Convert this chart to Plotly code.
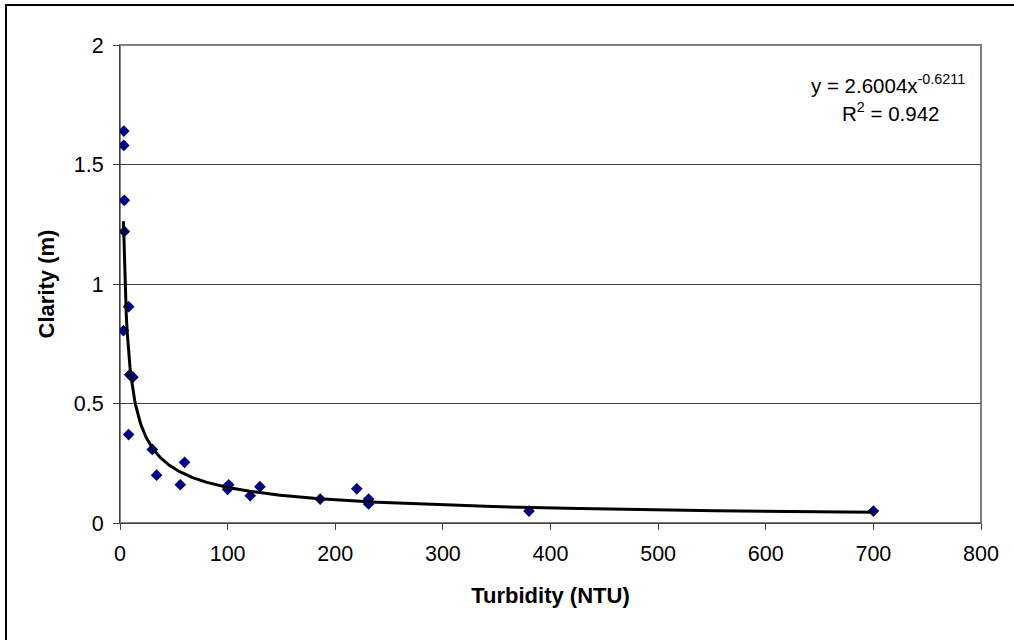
import numpy as np
import plotly.graph_objects as go

# Data
turbidity = [3.5, 3.5, 4, 4, 8, 3.2, 9, 12, 8, 30, 34, 56, 60, 101, 100, 121, 130, 186, 220, 231, 231, 380, 700]
clarity = [1.64, 1.58, 1.35, 1.22, 0.905, 0.805, 0.62, 0.61, 0.37, 0.308, 0.20, 0.16, 0.254, 0.16, 0.141, 0.114, 0.152, 0.10, 0.143, 0.10, 0.08, 0.05, 0.05]

# Power trendline coefficients (as displayed on the chart)
coef_a = 2.6004
coef_b = -0.6211
r_squared = 0.942

x_ticks = [0, 100, 200, 300, 400, 500, 600, 700, 800]
y_ticks = [0, 0.5, 1, 1.5, 2]

trend_x = np.linspace(min(turbidity), max(turbidity), 800)
trend_y = coef_a * trend_x ** coef_b

FONT = "Liberation Sans, Arial, sans-serif"

fig = go.Figure()
fig.add_trace(go.Scatter(
    x=turbidity, y=clarity, mode="markers",
    marker=dict(symbol="diamond", size=9, color="#000080", line=dict(width=0)),
    showlegend=False,
))
fig.add_trace(go.Scatter(
    x=trend_x, y=trend_y, mode="lines",
    line=dict(color="#000000", width=3),
    showlegend=False,
))

fig.update_layout(
    width=1014, height=640,
    margin=dict(l=120, r=33, t=45, b=117),
    paper_bgcolor="white", plot_bgcolor="white",
    font=dict(family=FONT, size=21, color="black"),
    xaxis=dict(
        range=[0, 800], tickvals=x_ticks, ticktext=[str(v) for v in x_ticks],
        showgrid=False, zeroline=False,
        showline=True, linecolor="#404040", linewidth=1,
        ticks="outside", ticklen=6, tickcolor="#404040",
        tickfont=dict(family=FONT, size=21.5), ticklabelstandoff=5,
        title=dict(text="Turbidity (NTU)", font=dict(family=FONT, size=22, weight="bold"), standoff=22),
    ),
    yaxis=dict(
        range=[0, 2], tickvals=y_ticks, ticktext=["0", "0.5", "1", "1.5", "2"],
        showgrid=True, gridcolor="#404040", gridwidth=1, zeroline=False,
        showline=True, linecolor="#404040", linewidth=1,
        ticks="outside", ticklen=6, tickcolor="#404040",
        tickfont=dict(family=FONT, size=21.5), ticklabelstandoff=5,
        title=dict(text="Clarity (m)", font=dict(family=FONT, size=22, weight="bold"), standoff=13),
    ),
    shapes=[
        dict(type="rect", xref="paper", yref="paper", x0=0, x1=1, y0=0, y1=1,
             line=dict(color="#808080", width=2), layer="below"),
        dict(type="rect", xref="paper", yref="paper", x0=-0.1324, x1=1.06, y0=-0.27, y1=1.0837,
             line=dict(color="#000000", width=2)),
    ],
    annotations=[
        dict(x=713.5, y=1.836, xref="x", yref="y", showarrow=False,
             text=f"y = {coef_a:.4f}x<sup>{coef_b}</sup>", font=dict(family=FONT, size=20.5),
             xanchor="center", yanchor="middle"),
        dict(x=716, y=1.718, xref="x", yref="y", showarrow=False,
             text=f"R<sup>2</sup> = {r_squared}", font=dict(family=FONT, size=20.5),
             xanchor="center", yanchor="middle"),
    ],
)

fig.write_html("out.html")
